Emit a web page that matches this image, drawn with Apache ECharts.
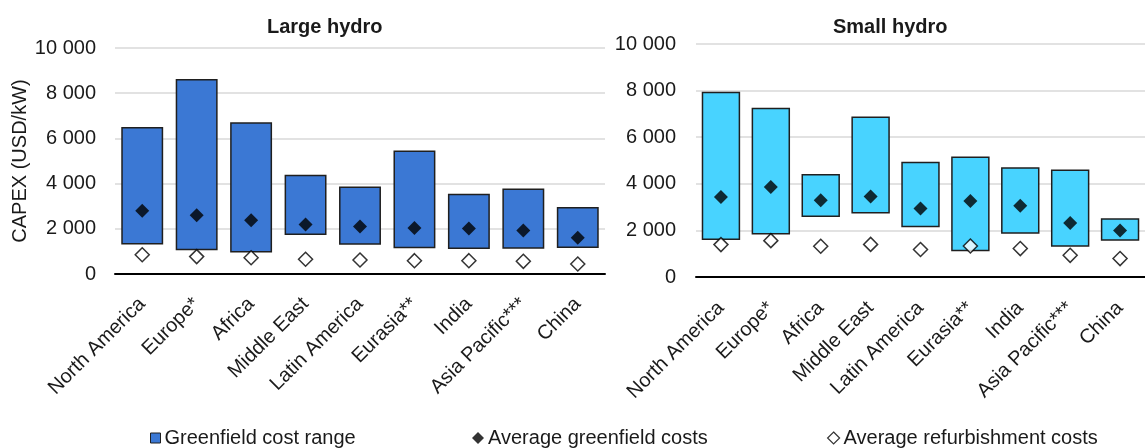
<!DOCTYPE html>
<html>
<head>
<meta charset="utf-8">
<script src="https://cdn.jsdelivr.net/npm/echarts@6/dist/echarts.min.js"></script>
<style>
  html, body { margin: 0; padding: 0; background: #fff; }
  #chart { width: 1145px; height: 448px; }
</style>
</head>
<body>
<div id="chart"></div>
<script>
const categories = ['North America', 'Europe*', 'Africa', 'Middle East', 'Latin America', 'Eurasia**', 'India', 'Asia Pacific***', 'China']

// Large hydro (USD/kW)
const largeLow = [1300, 1050, 950, 1730, 1290, 1140, 1110, 1120, 1150]
const largeHigh = [6500, 8630, 6720, 4390, 3870, 5470, 3550, 3780, 2970]
const largeAvg = [2800, 2600, 2380, 2190, 2100, 2040, 2010, 1920, 1600]
const largeRefurb = [850, 770, 720, 650, 620, 590, 590, 560, 440]

// Small hydro (USD/kW)
const smallLow = [1590, 1820, 2580, 2730, 2130, 1110, 1860, 1300, 1560]
const smallHigh = [7950, 7260, 4420, 6890, 4950, 5170, 4710, 4610, 2520]
const smallAvg = [3430, 3860, 3290, 3460, 2940, 3260, 3060, 2320, 2000]
const smallRefurb = [1390, 1560, 1320, 1400, 1180, 1330, 1220, 930, 790]

const yTicks = { min: 0, max: 10000, interval: 2000 }

const FONT = "'Liberation Sans', Arial, sans-serif"
const TEXT = '#1a1a1a'
const BORDER = '#1f1f1f'

const fmt = v => String(v).replace(/\B(?=(\d{3})+(?!\d))/g, ' ')

function xAxis(gridIndex, margin) {
  return {
    type: 'category',
    gridIndex,
    data: categories,
    axisLine: { lineStyle: { color: '#000', width: 2 } },
    axisTick: { show: false },
    axisLabel: { interval: 0, rotate: 45, fontSize: 20, color: TEXT, fontFamily: FONT, margin },
  }
}

function yAxis(gridIndex, extra) {
  return Object.assign({
    type: 'value',
    gridIndex,
    min: yTicks.min,
    max: yTicks.max,
    interval: yTicks.interval,
    axisLine: { show: false },
    axisTick: { show: false },
    axisLabel: { fontSize: 20, color: TEXT, fontFamily: FONT, margin: 19, formatter: fmt },
    splitLine: { lineStyle: { color: '#d9d9d9', width: 1.5 } },
  }, extra)
}

// range bar = transparent base + visible segment stacked on top
function rangeSeries(idx, low, high, color) {
  return [
    {
      name: 'base' + idx, type: 'bar', stack: 'r' + idx, xAxisIndex: idx, yAxisIndex: idx,
      data: low, barWidth: '77%', silent: true,
      itemStyle: { color: 'transparent' },
    },
    {
      name: 'Greenfield cost range', type: 'bar', stack: 'r' + idx, xAxisIndex: idx, yAxisIndex: idx,
      data: high.map((h, i) => h - low[i]), barWidth: '77%',
      itemStyle: { color, borderColor: BORDER, borderWidth: 1.5 },
    },
  ]
}

function pointSeries(idx, avg, refurb) {
  return [
    {
      name: 'Average greenfield costs', type: 'scatter', xAxisIndex: idx, yAxisIndex: idx,
      data: avg, symbol: 'diamond', symbolSize: 14, z: 5,
      itemStyle: { color: '#000' },
    },
    {
      name: 'Average refurbishment costs', type: 'scatter', xAxisIndex: idx, yAxisIndex: idx,
      data: refurb, symbol: 'diamond', symbolSize: 14, z: 5,
      itemStyle: { color: '#fff', borderColor: '#000', borderWidth: 1.5 },
    },
  ]
}

function legend(name, left, icon, style, size) {
  return {
    data: [{ name, icon, itemStyle: style }],
    left, top: 423,
    itemWidth: size, itemHeight: size,
    selectedMode: false,
    textStyle: { fontSize: 20, color: TEXT, fontFamily: FONT, padding: [0, 0, 0, -1] },
  }
}

const chart = echarts.init(document.getElementById('chart'))
chart.setOption({
  animation: false,
  textStyle: { fontFamily: FONT },
  title: [
    { text: 'Large hydro', left: 262, top: 12, textStyle: { fontSize: 20, fontWeight: 'bold', color: TEXT, fontFamily: FONT } },
    { text: 'Small hydro', left: 828, top: 12, textStyle: { fontSize: 20, fontWeight: 'bold', color: TEXT, fontFamily: FONT } },
  ],
  legend: [
    legend('Greenfield cost range', 145, 'rect', { color: '#3b78d4', borderColor: BORDER, borderWidth: 1 }, 10),
    legend('Average greenfield costs', 467, 'diamond', { color: '#000' }, 12),
    legend('Average refurbishment costs', 822, 'diamond', { color: '#fff', borderColor: '#000', borderWidth: 1.2 }, 12),
  ],
  grid: [
    { left: 115, width: 490, top: 48, height: 226 },
    { left: 696, width: 459, top: 44, height: 233 },
  ],
  xAxis: [xAxis(0, 27), xAxis(1, 28)],
  yAxis: [
    yAxis(0, {
      name: 'CAPEX (USD/kW)', nameLocation: 'middle', nameGap: 80, nameRotate: 90,
      nameTextStyle: { fontSize: 20, color: TEXT, fontFamily: FONT },
    }),
    yAxis(1, { axisLabel: { fontSize: 20, color: TEXT, fontFamily: FONT, margin: 20, formatter: fmt } }),
  ],
  series: [
    ...rangeSeries(0, largeLow, largeHigh, '#3b78d4'),
    ...pointSeries(0, largeAvg, largeRefurb),
    ...rangeSeries(1, smallLow, smallHigh, '#48d3ff'),
    ...pointSeries(1, smallAvg, smallRefurb),
  ],
})
window.addEventListener('resize', () => chart.resize())
</script>
</body>
</html>
